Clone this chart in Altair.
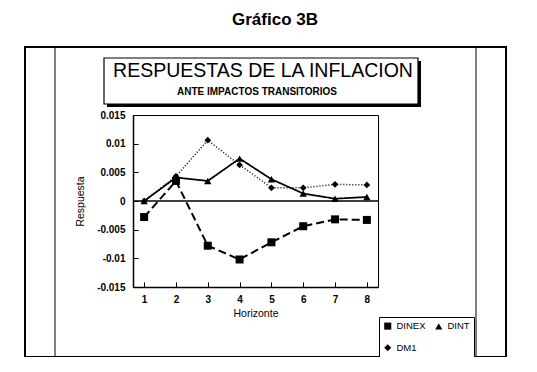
import altair as alt
import pandas as pd

# ---- data ----
horizonte = [1, 2, 3, 4, 5, 6, 7, 8]
dinex = [-0.0028, 0.0035, -0.0078, -0.0102, -0.0072, -0.0044, -0.0032, -0.0033]
dint = [0.0, 0.0041, 0.0035, 0.0074, 0.0038, 0.0013, 0.0004, 0.0007]
dm1 = [0.0, 0.0043, 0.0106, 0.0063, 0.0023, 0.0023, 0.0029, 0.0028]
series = ["DINEX", "DINT", "DM1"]
y_ticks = [0.015, 0.01, 0.005, 0, -0.005, -0.01, -0.015]

rows = []
for name, vals in zip(series, [dinex, dint, dm1]):
    for h, v in zip(horizonte, vals):
        rows.append({"Horizonte": h, "Respuesta": v, "Serie": name, "linea": name, "marca": name})
df = pd.DataFrame(rows)

FONT = "Liberation Sans"
one = alt.Data(values=[{}])

xscale = alt.Scale(type="point", padding=0.35)
yscale = alt.Scale(domain=[-0.015, 0.015], nice=False, zero=False)

main_x = alt.Axis(title="Horizonte", labelAngle=0, ticks=False, labelPadding=7,
                  domainColor="black", domainWidth=1.5, grid=False, zindex=2,
                  labelFont=FONT, labelFontSize=10, labelFontWeight="bold", labelColor="black",
                  titleFont=FONT, titleFontSize=10.5, titleFontWeight="normal", titleColor="black",
                  titlePadding=4)
main_y = alt.Axis(title="Respuesta", values=y_ticks, labelExpr="'' + datum.value", ticks=False,
                  labelPadding=8, domainColor="black", domainWidth=1.5, grid=False, zindex=2,
                  labelFont=FONT, labelFontSize=10, labelFontWeight="bold", labelColor="black",
                  titleFont=FONT, titleFontSize=10.5, titleFontWeight="normal", titleColor="black",
                  titlePadding=11)
tick_x = alt.Axis(title=None, orient="bottom", labels=False, domain=False, tickSize=5, offset=-5,
                  tickColor="black", tickWidth=1, grid=False, zindex=2)
tick_y = alt.Axis(title=None, orient="left", values=y_ticks, labels=False, domain=False, tickSize=5,
                  offset=-5, tickColor="black", tickWidth=1, grid=False, zindex=2)


def box(x, x2, y, y2, **kw):
    return alt.Chart(one).mark_rect(**kw).encode(
        x=alt.value(x), x2=alt.value(x2), y=alt.value(y), y2=alt.value(y2))


def vline(x, y, y2, w=1):
    return alt.Chart(one).mark_rule(color="black", strokeWidth=w).encode(
        x=alt.value(x), y=alt.value(y), y2=alt.value(y2))


def label(txt, x, y, size, weight="normal"):
    return alt.Chart(one).mark_text(text=txt, font=FONT, fontSize=size, fontWeight=weight,
                                    color="black", align="center", baseline="alphabetic").encode(
        x=alt.value(x), y=alt.value(y))


frame = box(-108, 373, -68, 242, fillOpacity=0, stroke="black", strokeWidth=2)
inner_l = vline(-78, -68, 242)
inner_r = vline(343, -68, 242)
title_shadow = box(-26, 288, -54, -8, fill="black")
title_box = box(-29, 285, -57, -11, fill="white", stroke="black", strokeWidth=1.2)
t_main = label("RESPUESTAS DE LA INFLACION", 130, -38, 19.5)
t_sub = label("ANTE IMPACTOS TRANSITORIOS", 124, -20, 10, "bold")
t_graf = label("Gráfico 3B", 142, -90, 17, "bold")
legend_shadow = box(249, 341, 205, 243, fill="black")

lines = alt.Chart(df).mark_line(color="black").encode(
    x=alt.X("Horizonte:O", scale=xscale, axis=main_x),
    y=alt.Y("Respuesta:Q", scale=yscale, axis=main_y),
    detail="Serie:N",
    strokeDash=alt.StrokeDash("linea:N", scale=alt.Scale(range=[[8, 4], [1, 0], [1, 2]]), legend=None),
    strokeWidth=alt.StrokeWidth("linea:N", scale=alt.Scale(range=[2, 1.5, 1]), legend=None),
)

points = alt.Chart(df).mark_point(filled=True, color="black", opacity=1).encode(
    x=alt.X("Horizonte:O", scale=xscale, axis=tick_x),
    y=alt.Y("Respuesta:Q", scale=yscale, axis=tick_y),
    shape=alt.Shape("Serie:N",
                    scale=alt.Scale(domain=series, range=["square", "triangle-up", "diamond"]),
                    legend=alt.Legend(title=None, orient="none", legendX=246, legendY=202, columns=2,
                                      direction="horizontal",
                                      fillColor="white", strokeColor="black", padding=4, zindex=3,
                                      labelFont=FONT, labelFontSize=9.5, labelColor="black",
                                      symbolFillColor="black", symbolStrokeColor="black", symbolSize=50,
                                      columnPadding=6, rowPadding=8, labelOffset=4)),
    size=alt.Size("marca:N", scale=alt.Scale(range=[64, 45, 35]), legend=None),
)

zero = alt.Chart(one).mark_rule(color="black", strokeWidth=1.5).encode(
    y=alt.YDatum(0, type="quantitative", axis=None))

chart = alt.layer(
    frame, inner_l, inner_r, title_shadow, title_box, t_main, t_sub, t_graf, legend_shadow,
    zero, lines, points,
).resolve_axis(x="independent", y="independent").properties(
    width=245, height=172,
    autosize=alt.AutoSizeParams(type="none"),
    padding={"left": 125, "top": 107, "right": 147, "bottom": 70},
    background="white",
).configure_view(stroke="black", strokeWidth=1)

chart.save("out.html", embed_options={"renderer": "svg", "actions": False})
